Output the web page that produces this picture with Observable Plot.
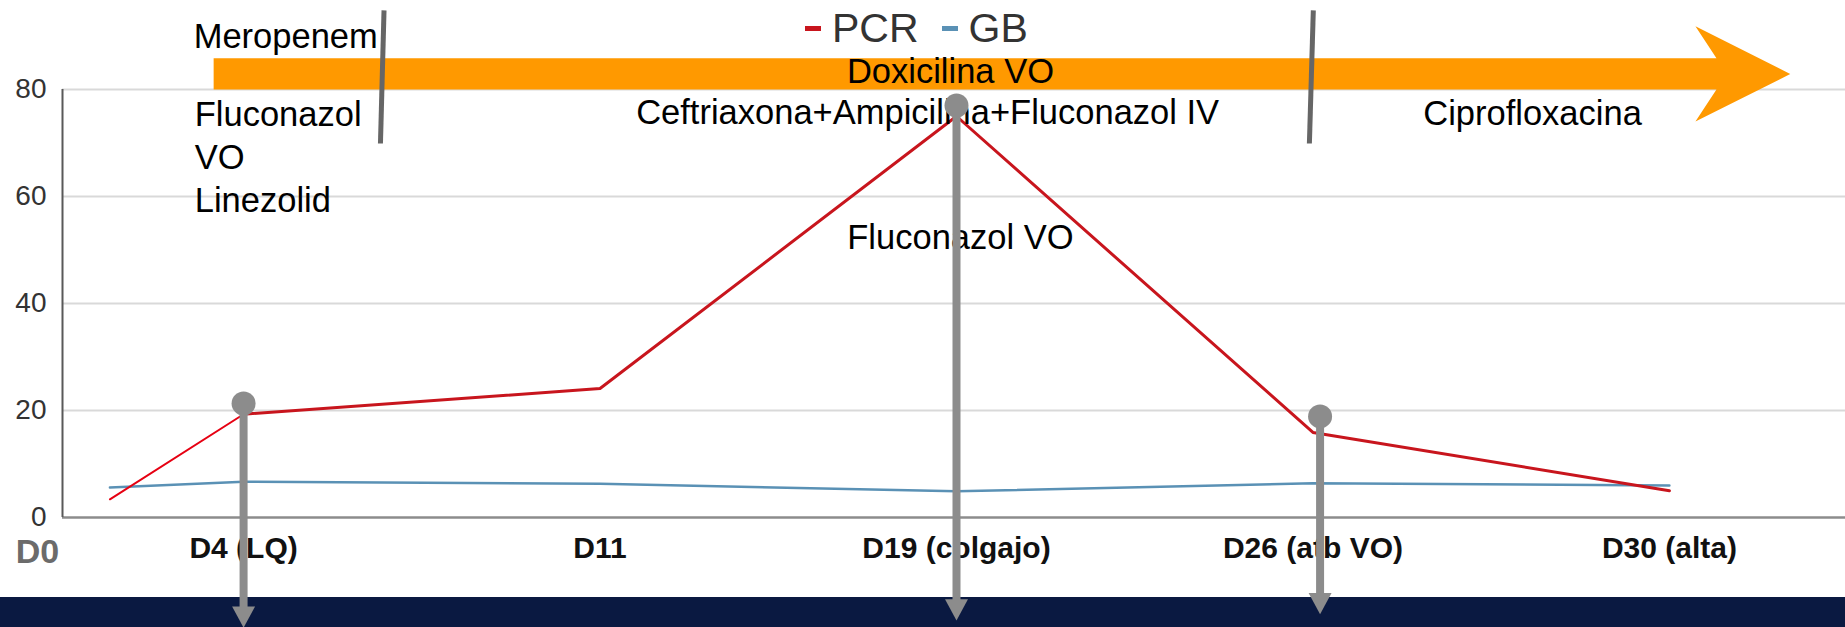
<!DOCTYPE html>
<html>
<head>
<meta charset="utf-8">
<script src="https://cdn.jsdelivr.net/npm/d3@7"></script>
<script src="https://cdn.jsdelivr.net/npm/@observablehq/plot@0.6"></script>
<style>
  html, body { margin: 0; padding: 0; background: #fff; }
  #wrap { position: relative; width: 1845px; height: 627px; overflow: hidden;
          font-family: "Liberation Sans", Arial, sans-serif; }
  #band { position: absolute; left: 0; top: 597px; width: 1845px; height: 30px; background: #0a1941; }
  #chart { position: absolute; left: 0; top: 0; }
  #legend { position: absolute; left: 805px; top: 6px; display: flex; align-items: center;
            font-size: 41px; line-height: 44px; color: #333; white-space: nowrap; }
  #legend .sw { display: inline-block; width: 16px; height: 5px; margin-right: 11px; }
  #legend .item { display: flex; align-items: center; margin-right: 23px; }
</style>
</head>
<body>
<div id="wrap">
  <div id="band"></div>
  <div id="chart"></div>
  <div id="legend"></div>
</div>
<script>
// ---- data ----
const categories = ["D0", "D4 (LQ)", "D11", "D19 (colgajo)", "D26 (atb VO)", "D30 (alta)"];
const timeline   = [-0.375, 0, 1, 2, 3, 4];          // position of each day on the category axis
const pcr        = [3.4, 19.3, 24.1, 75, 15.9, 5.0];  // PCR series
const gb         = [5.6, 6.7, 6.3, 4.9, 6.4, 6.0];    // GB series
const yTicks     = [0, 20, 40, 60, 80];
const seriesNames = ["PCR", "GB"];

// ---- styles ----
const RED = "#c8151d", BLUE = "#5a91b5", GRAY = "#8c8c8c", ORANGE = "#ff9900";
const FONT = "Liberation Sans, Arial, sans-serif";
const ANN = 34.5;

const pcrRows = categories.map((c, i) => ({series: "PCR", cat: c, t: timeline[i], v: pcr[i]}));
const gbRows  = categories.map((c, i) => ({series: "GB",  cat: c, t: timeline[i], v: gb[i]}));

const xMin = -0.508, xMax = 4.494;

// downward triangle whose anchor point is the tip
const tipDown = {
  draw(ctx, size) {
    const r = Math.sqrt(size / Math.PI), w = 1.35 * r, h = 2.5 * r;
    ctx.moveTo(0, 0); ctx.lineTo(-w, -h); ctx.lineTo(w, -h); ctx.closePath();
  }
};

// timeline annotations (treatment arrow, separators, pointers)
const orangeArrow = [
  {t: -0.084, v: 85.85}, {t: 4.132, v: 85.85}, {t: 4.073, v: 91.8}, {t: 4.339, v: 82.9},
  {t: 4.073, v: 74.0}, {t: 4.132, v: 80.0}, {t: -0.084, v: 80.0}
];
const separators = [
  {x1: 0.394, y1: 94.8, x2: 0.384, y2: 69.9},
  {x1: 3.001, y1: 94.8, x2: 2.990, y2: 69.9}
];
const pointers = [
  {t: 0,    top: 21.3, tip: -20.6},
  {t: 2,    top: 77.0, tip: -19.25},
  {t: 3.02, top: 18.9, tip: -18.1}
];

const chart = Plot.plot({
  width: 1845, height: 627,
  marginLeft: 62, marginRight: 0, marginTop: 89, marginBottom: 110,
  style: {background: "transparent", overflow: "visible", fontFamily: FONT},
  x: {domain: [xMin, xMax]},
  y: {domain: [0, 80]},
  color: {domain: seriesNames, range: [RED, BLUE]},
  marks: [
    Plot.ruleY(yTicks.slice(1), {stroke: "#d9d9d9", strokeWidth: 2}),
    Plot.ruleY([0], {stroke: "#8c8c8c", strokeWidth: 2.5}),
    Plot.ruleX([xMin], {y1: 0, y2: 80, stroke: "#595959", strokeWidth: 2}),
    Plot.axisY({ticks: yTicks, tickSize: 0, tickPadding: 16, fontSize: 28, fill: "#333", label: null}),
    Plot.axisX({ticks: timeline.slice(1), tickFormat: t => categories[timeline.indexOf(t)],
                tickSize: 0, tickPadding: 19, fontSize: 30, fontWeight: "bold", fill: "#111", label: null}),
    Plot.line(gbRows, {x: "t", y: "v", stroke: "series", strokeWidth: 2.5}),
    Plot.line(pcrRows.slice(0, 2), {x: "t", y: "v", stroke: "#e60012", strokeWidth: 2}),
    Plot.line(pcrRows.slice(1), {x: "t", y: "v", stroke: "series", strokeWidth: 3}),
    Plot.line(orangeArrow, {x: "t", y: "v", fill: ORANGE, stroke: "none"}),
    Plot.link(separators, {x1: "x1", y1: "y1", x2: "x2", y2: "y2", stroke: "#666", strokeWidth: 5}),
    Plot.text([{t: -0.14, v: 90.3, s: "Meropenem"},
               {t: -0.137, v: 67.7, s: "Fluconazol\nVO\nLinezolid"}],
              {x: "t", y: "v", text: "s", textAnchor: "start", fontSize: ANN, lineHeight: 1.24, fill: "#000"}),
    Plot.text([{t: 1.983, v: 83.2, s: "Doxicilina VO"},
               {t: 1.919, v: 75.7, s: "Ceftriaxona+Ampicilina+Fluconazol IV"},
               {t: 2.011, v: 52.3, s: "Fluconazol VO"},
               {t: 3.616, v: 75.5, s: "Ciprofloxacina"}],
              {x: "t", y: "v", text: "s", textAnchor: "middle", fontSize: ANN, fill: "#000"}),
    Plot.text([categories[0]], {text: d => d, frameAnchor: "bottom-left", dx: -25, dy: 45,
              textAnchor: "middle", fontSize: 34, fontWeight: "bold", fill: "#6b6b6b"}),
    Plot.ruleX(pointers, {x: "t", y1: "top", y2: d => d.tip + 3, stroke: GRAY, strokeWidth: 8}),
    Plot.dot(pointers, {x: "t", y: "top", r: 12, fill: GRAY, stroke: "none"}),
    Plot.dot(pointers, {x: "t", y: "tip", r: 8.5, symbol: tipDown, fill: GRAY, stroke: "none"})
  ]
});
document.getElementById("chart").appendChild(chart);

// legend
const legend = document.getElementById("legend");
seriesNames.forEach((name, i) => {
  const item = document.createElement("span");
  item.className = "item";
  const sw = document.createElement("span");
  sw.className = "sw";
  sw.style.background = [RED, BLUE][i];
  const label = document.createElement("span");
  label.textContent = name;
  item.appendChild(sw); item.appendChild(label);
  legend.appendChild(item);
});
</script>
</body>
</html>
